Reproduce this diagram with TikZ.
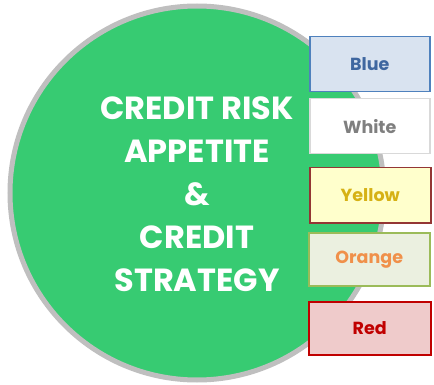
\documentclass[tikz,border=0pt]{standalone}
\usepackage{fontspec}
\setmainfont{Poppins}
\definecolor{cgreen}{HTML}{37CB72}
\definecolor{cgray}{HTML}{BFBFBF}
\definecolor{bluefill}{HTML}{D9E3F0}
\definecolor{blueline}{HTML}{4F81BD}
\definecolor{bluetext}{HTML}{3F67A0}
\definecolor{whiteline}{HTML}{D9D9D9}
\definecolor{whitetext}{HTML}{7F7F7F}
\definecolor{yelfill}{HTML}{FFFFCC}
\definecolor{yelline}{HTML}{943634}
\definecolor{yeltext}{HTML}{D6B114}
\definecolor{orfill}{HTML}{EBF0E0}
\definecolor{orline}{HTML}{9BBB59}
\definecolor{ortext}{HTML}{F0904A}
\definecolor{redfill}{HTML}{EFCBCB}
\definecolor{redline}{HTML}{C00000}
\definecolor{redtext}{HTML}{C00000}
\tikzset{
  lvl/.style={draw, line width=1.5pt, minimum width=120pt, minimum height=55pt, anchor=north west, inner sep=0pt, font=\fontsize{17.5}{19}\selectfont\bfseries},
  big/.style={text=white, align=center, font=\fontsize{32}{43}\selectfont\bfseries}
}
\begin{document}
\begin{tikzpicture}[x=1pt,y=-1pt]
\useasboundingbox (0,0) rectangle (434,385);
\node[circle, draw=cgray, fill=cgreen, line width=5pt, minimum size=374pt, inner sep=0pt] (circ) at (197,193) {};
\node[big] (title) at (197,194) {CREDIT RISK\\APPETITE\\\&\\CREDIT\\STRATEGY};
\node[lvl, fill=bluefill, draw=blueline, text=bluetext] (blue) at (309,36) {Blue};
\node[lvl, fill=white, draw=whiteline, text=whitetext] (white) at (309,98) {White};
\node[lvl, fill=yelfill, draw=yelline, text=yeltext, minimum width=121pt] (yellow) at (309,167) {Yellow};
\node[lvl, fill=orfill, draw=orline, text=ortext, minimum width=121pt, minimum height=53pt] (orange) at (308,232) {Orange};
\node[lvl, fill=redfill, draw=redline, text=redtext, minimum width=122pt, minimum height=53pt] (red) at (308,301) {Red};
\end{tikzpicture}
\end{document}
